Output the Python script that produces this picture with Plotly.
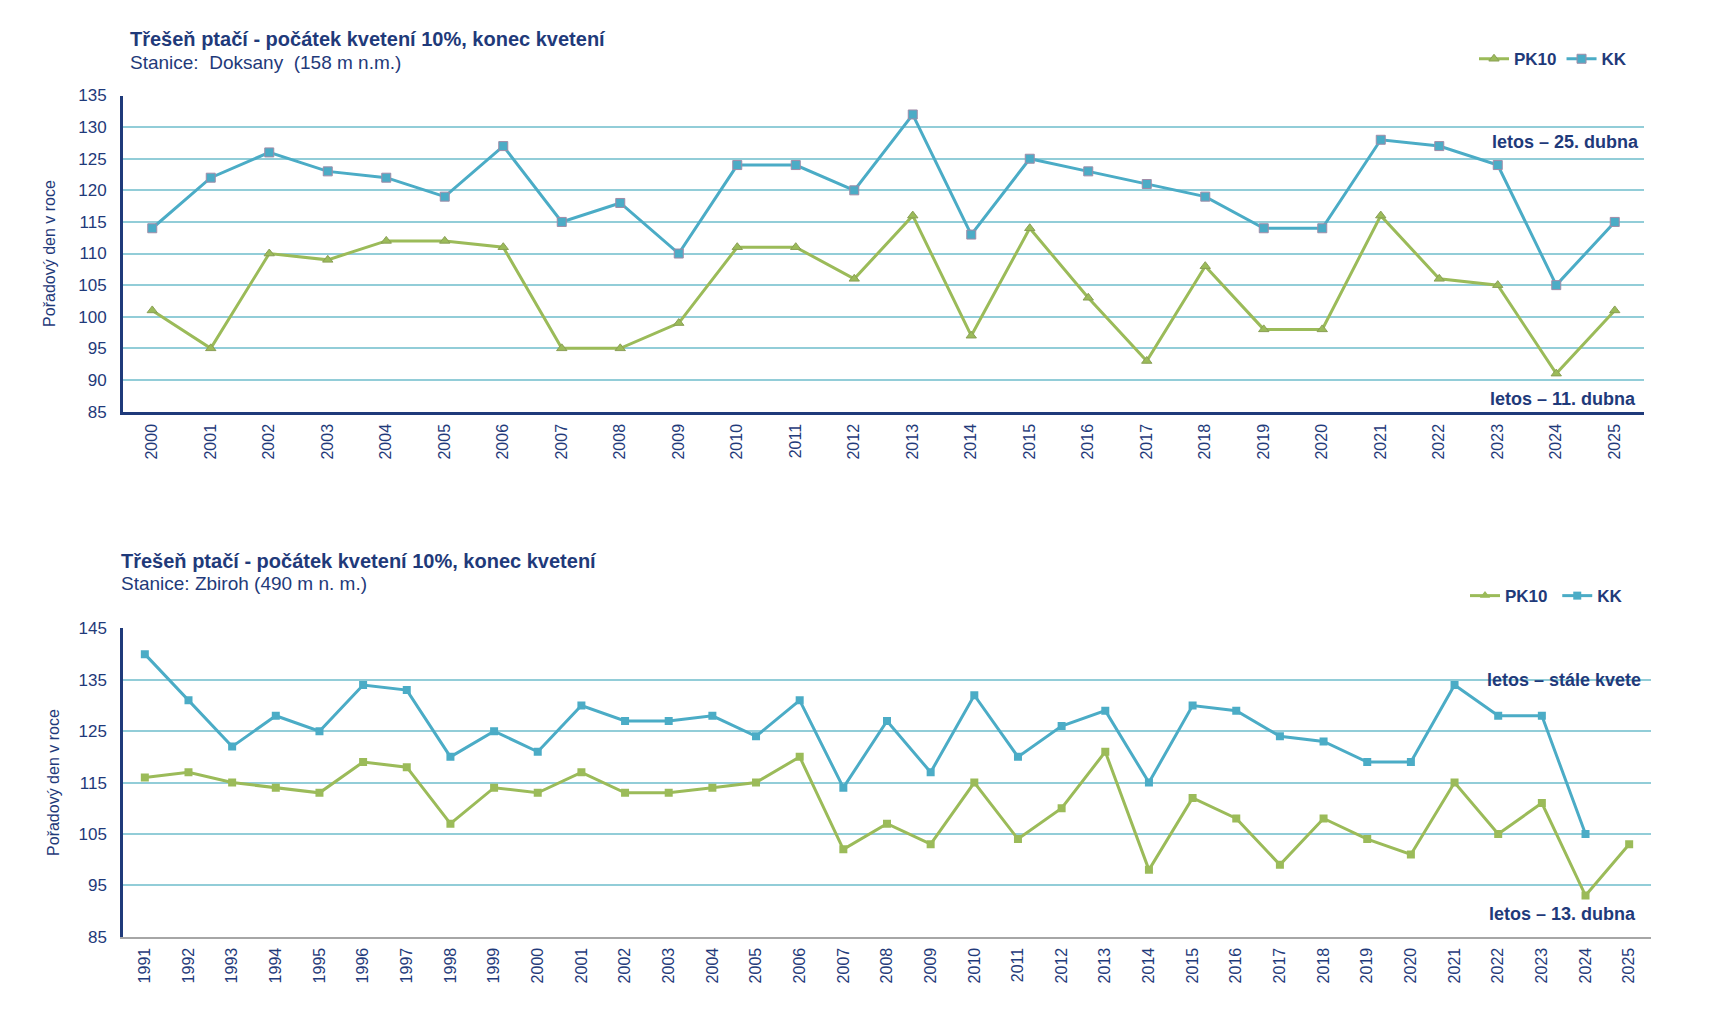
import plotly.graph_objects as go

# ---- data ----
years_top = [str(y) for y in range(2000, 2026)]
pk10_top = [101, 95, 110, 109, 112, 112, 111, 95, 95, 99, 111, 111, 106, 116, 97, 114, 103, 93, 108, 98, 98, 116, 106, 105, 91, 101]
kk_top = [114, 122, 126, 123, 122, 119, 127, 115, 118, 110, 124, 124, 120, 132, 113, 125, 123, 121, 119, 114, 114, 128, 127, 124, 105, 115]

years_bot = [str(y) for y in range(1991, 2026)]
pk10_bot = [116, 117, 115, 114, 113, 119, 118, 107, 114, 113, 117, 113, 113, 114, 115, 120, 102, 107, 103, 115,
            104, 110, 121, 98, 112, 108, 99, 108, 104, 101, 115, 105, 111, 93, 103]
kk_bot = [140, 131, 122, 128, 125, 134, 133, 120, 125, 121, 130, 127, 127, 128, 124, 131, 114, 127, 117, 132,
          120, 126, 129, 115, 130, 129, 124, 123, 119, 119, 134, 128, 128, 105, None]

title_top = "Třešeň ptačí - počátek kvetení 10%, konec kvetení"
sub_top = "Stanice:  Doksany  (158 m n.m.)"
title_bot = "Třešeň ptačí - počátek kvetení 10%, konec kvetení"
sub_bot = "Stanice: Zbiroh (490 m n. m.)"
ytitle = "Pořadový den v roce"
note_top_hi = "letos – 25. dubna"
note_top_lo = "letos – 11. dubna"
note_bot_hi = "letos – stále kvete"
note_bot_lo = "letos – 13. dubna"

# ---- styles ----
NAVY = "#1F3A7A"
GREEN = "#9BBB59"
TEAL = "#4BACC6"
GRID = "#92CDD8"
NARROW = "Liberation Sans Narrow, Arial Narrow, Liberation Sans, Arial, sans-serif"
SANS = "Liberation Sans, Arial, sans-serif"
NB = "\u00a0"

W, H = 1728, 1026

def px(x):
    return x / W

def py(y):
    return 1 - y / H

fig = go.Figure()

fig.add_trace(go.Scatter(x=years_top, y=pk10_top, name="PK10", mode="lines+markers",
                         line=dict(color=GREEN, width=3),
                         marker=dict(symbol="triangle-up", size=9, color=GREEN, line=dict(color="#8A9F55", width=1)),
                         xaxis="x", yaxis="y", legend="legend"))
fig.add_trace(go.Scatter(x=years_top, y=kk_top, name="KK", mode="lines+markers",
                         line=dict(color=TEAL, width=3),
                         marker=dict(symbol="square", size=9, color=TEAL, line=dict(color="#A08CA8", width=1)),
                         xaxis="x", yaxis="y", legend="legend"))

# bottom chart
fig.add_trace(go.Scatter(x=years_bot, y=pk10_bot, name="PK10", mode="lines+markers",
                         line=dict(color=GREEN, width=3),
                         marker=dict(symbol="square", size=8, color=GREEN),
                         xaxis="x2", yaxis="y2", showlegend=False, legendgroup="pkb"))
fig.add_trace(go.Scatter(x=[None], y=[None], name="PK10" + NB, mode="lines+markers",
                         line=dict(color=GREEN, width=3),
                         marker=dict(symbol="triangle-up", size=9, color=GREEN),
                         xaxis="x2", yaxis="y2", legend="legend2", legendgroup="pkb"))
fig.add_trace(go.Scatter(x=years_bot, y=kk_bot, name="KK", mode="lines+markers",
                         line=dict(color=TEAL, width=3),
                         marker=dict(symbol="square", size=8, color=TEAL),
                         xaxis="x2", yaxis="y2", legend="legend2"))

tickfont = dict(family=SANS, size=17, color=NAVY)
xtickfont = dict(family=SANS, size=16, color=NAVY)

fig.update_layout(
    width=W, height=H,
    margin=dict(l=0, r=0, t=0, b=0),
    paper_bgcolor="white", plot_bgcolor="white",
    showlegend=True,
    xaxis=dict(domain=[px(115), px(1636)], anchor="y", type="category", range=[-0.5, 25.5],
               tickangle=-90, tickfont=xtickfont, showgrid=False, showline=True,
               linecolor=NAVY, linewidth=3, ticks="outside", ticklen=3, tickcolor="rgba(0,0,0,0)"),
    yaxis=dict(domain=[py(402), py(80)], anchor="x", range=[85, 135], dtick=5, tick0=85,
               tickfont=tickfont, showgrid=True, gridcolor=GRID, gridwidth=1.5,
               showline=True, linecolor=NAVY, linewidth=3, ticks="outside", ticklen=10,
               tickcolor="rgba(0,0,0,0)", zeroline=False,
               title=dict(text=ytitle, font=dict(family=SANS, size=16, color=NAVY), standoff=19)),
    xaxis2=dict(domain=[px(115), px(1643)], anchor="y2", type="category", range=[-0.5, 34.5],
                tickangle=-90, tickfont=xtickfont, showgrid=False, showline=True,
                linecolor="#A6A6A6", linewidth=1.5, ticks="outside", ticklen=3, tickcolor="rgba(0,0,0,0)"),
    yaxis2=dict(domain=[py(937), py(623)], anchor="x2", range=[85, 145], dtick=10, tick0=85,
                tickfont=tickfont, showgrid=True, gridcolor=GRID, gridwidth=1.5,
                showline=True, linecolor=NAVY, linewidth=2.5, ticks="outside", ticklen=10,
                tickcolor="rgba(0,0,0,0)", zeroline=False,
                title=dict(text=ytitle, font=dict(family=SANS, size=16, color=NAVY), standoff=15)),
    legend=dict(orientation="h", x=px(1624), xanchor="right", y=py(43), yanchor="middle",
                font=dict(family=NARROW, size=17, color=NAVY, weight="bold"), traceorder="normal",
                itemwidth=30, bgcolor="rgba(0,0,0,0)", tracegroupgap=0),
    legend2=dict(orientation="h", x=px(1620), xanchor="right", y=py(590), yanchor="middle",
                 font=dict(family=NARROW, size=17, color=NAVY, weight="bold"),
                 itemwidth=30, bgcolor="rgba(0,0,0,0)", tracegroupgap=0),
)

def ann(text, x, y, anchor="left", size=18, bold=False):
    fig.add_annotation(text=text, xref="paper", yref="paper", x=x, y=y, xanchor=anchor,
                       yanchor="middle", showarrow=False,
                       font=dict(family=NARROW, size=size, color=NAVY, weight="bold" if bold else "normal"))

ann(title_top, px(120), py(22), size=20, bold=True)
ann(sub_top, px(120), py(46), size=19)
ann(title_bot, px(111), py(554), size=20, bold=True)
ann(sub_bot, px(111), py(577), size=19)
ann(note_top_hi, px(1633), py(127), anchor="right", size=18, bold=True)
ann(note_top_lo, px(1630), py(389), anchor="right", size=18, bold=True)
ann(note_bot_hi, px(1635), py(676), anchor="right", size=18, bold=True)
ann(note_bot_lo, px(1630), py(914), anchor="right", size=18, bold=True)

fig.write_html("out.html")
